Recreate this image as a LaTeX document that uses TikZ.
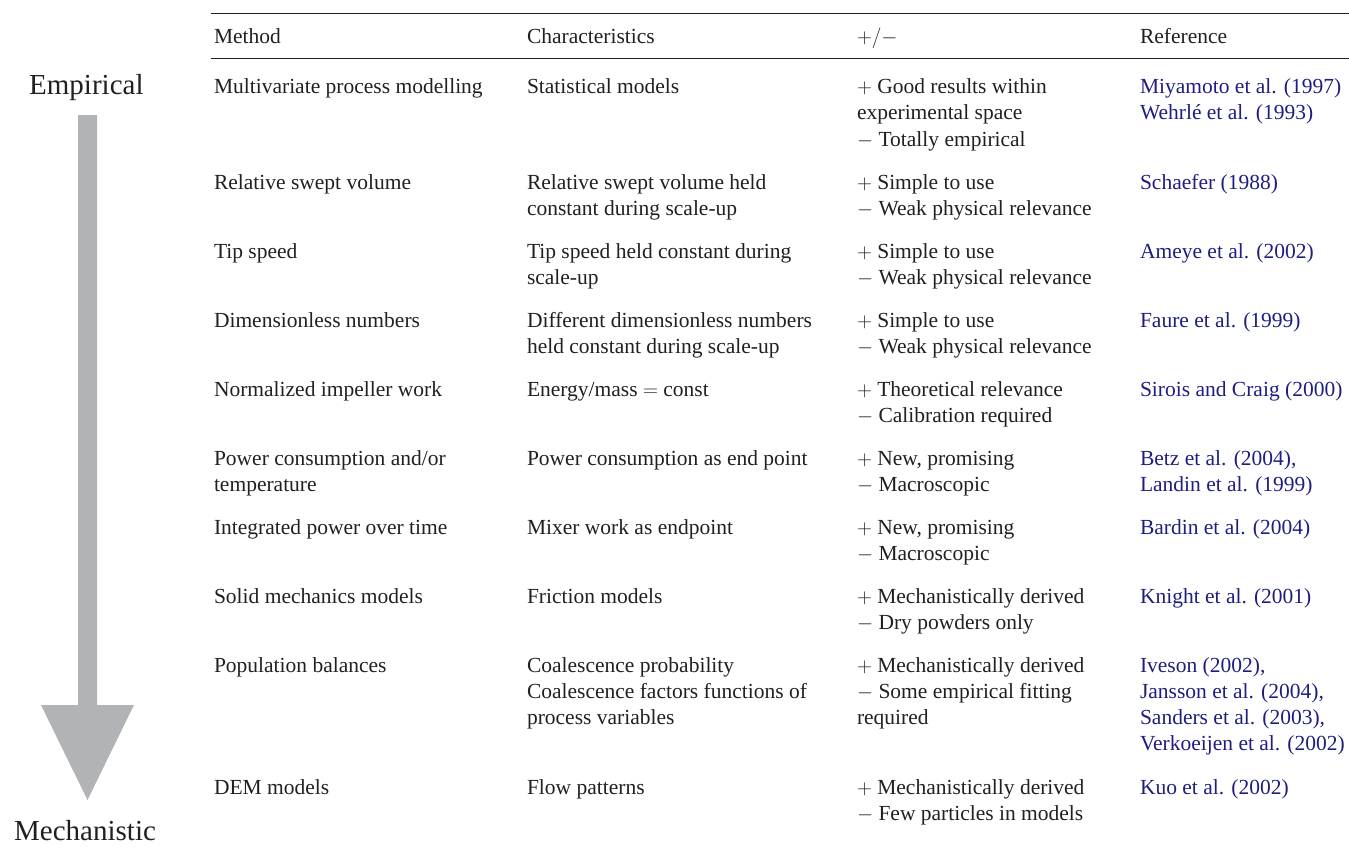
\documentclass[tikz,border=0pt]{standalone}
\usepackage{fontspec}
\setmainfont{Liberation Serif}
\definecolor{txt}{HTML}{231F20}
\definecolor{refblue}{HTML}{1E1E80}
\definecolor{arrowgray}{HTML}{B1B3B6}
\newcommand\mlines[1]{\begin{tabular}[t]{@{}l@{}}#1\end{tabular}}
\newcommand\pl{$+$\ }
\newcommand\mi{$-$\ }
\tikzset{
  cell/.style={anchor=base west, inner sep=0pt, outer sep=0pt, text=txt,
    font=\fontsize{21.5}{26.3}\selectfont},
  refcell/.style={cell, text=refblue},
  biglabel/.style={anchor=base west, inner sep=0pt, text=txt, font=\fontsize{29}{34}\selectfont},
  rule/.style={draw=txt, line width=1.1pt}
}
\begin{document}
\begin{tikzpicture}[x=1pt,y=-1pt]
\useasboundingbox (0,0) rectangle (1349,863);
% rules
\coordinate (rl1) at (211,13.5);
\coordinate (rr1) at (1349,13.5);
\coordinate (rl2) at (211,58.5);
\coordinate (rr2) at (1349,58.5);
\draw[rule] (rl1) -- (rr1);
\draw[rule] (rl2) -- (rr2);
% arrow
\fill[arrowgray] (78,115) -- (97,115) -- (97,705) -- (134,705) -- (87.5,800) -- (41,705) -- (78,705) -- cycle;
\node[biglabel] (emp) at (29,94) {Empirical};
\node[biglabel] (mech) at (14,840.5) {Mechanistic};
% header
\def\cA{214}\def\cB{527}\def\cC{857}\def\cD{1140}
\node[cell] (h1) at (\cA,43) {Method};
\node[cell] (h2) at (\cB,43) {Characteristics};
\node[cell] (h3) at (\cC,43) {$+/-$};
\node[cell] (h4) at (\cD,43) {Reference};
% row 1
\node[cell] (a1) at (\cA,93.5) {Multivariate process modelling};
\node[cell] (b1) at (\cB,93.5) {Statistical models};
\node[cell] (c1) at (\cC,93.5) {\mlines{\pl Good results within\\experimental space\\\mi Totally empirical}};
\node[refcell] (d1) at (\cD,93.5) {\mlines{Miyamoto et al. (1997)\\Wehrlé et al. (1993)}};
% row 2
\node[cell] (a2) at (\cA,189) {Relative swept volume};
\node[cell] (b2) at (\cB,189) {\mlines{Relative swept volume held\\constant during scale-up}};
\node[cell] (c2) at (\cC,189) {\mlines{\pl Simple to use\\\mi Weak physical relevance}};
\node[refcell] (d2) at (\cD,189) {Schaefer (1988)};
% row 3
\node[cell] (a3) at (\cA,258) {Tip speed};
\node[cell] (b3) at (\cB,258) {\mlines{Tip speed held constant during\\scale-up}};
\node[cell] (c3) at (\cC,258) {\mlines{\pl Simple to use\\\mi Weak physical relevance}};
\node[refcell] (d3) at (\cD,258) {Ameye et al. (2002)};
% row 4
\node[cell] (a4) at (\cA,327) {Dimensionless numbers};
\node[cell] (b4) at (\cB,327) {\mlines{Different dimensionless numbers\\held constant during scale-up}};
\node[cell] (c4) at (\cC,327) {\mlines{\pl Simple to use\\\mi Weak physical relevance}};
\node[refcell] (d4) at (\cD,327) {Faure et al. (1999)};
% row 5
\node[cell] (a5) at (\cA,396) {Normalized impeller work};
\node[cell] (b5) at (\cB,396) {Energy/mass $=$ const};
\node[cell] (c5) at (\cC,396) {\mlines{\pl Theoretical relevance\\\mi Calibration required}};
\node[refcell] (d5) at (\cD,396) {Sirois and Craig (2000)};
% row 6
\node[cell] (a6) at (\cA,465) {\mlines{Power consumption and/or\\temperature}};
\node[cell] (b6) at (\cB,465) {Power consumption as end point};
\node[cell] (c6) at (\cC,465) {\mlines{\pl New, promising\\\mi Macroscopic}};
\node[refcell] (d6) at (\cD,465) {\mlines{Betz et al. (2004),\\Landin et al. (1999)}};
% row 7
\node[cell] (a7) at (\cA,534) {Integrated power over time};
\node[cell] (b7) at (\cB,534) {Mixer work as endpoint};
\node[cell] (c7) at (\cC,534) {\mlines{\pl New, promising\\\mi Macroscopic}};
\node[refcell] (d7) at (\cD,534) {Bardin et al. (2004)};
% row 8
\node[cell] (a8) at (\cA,603) {Solid mechanics models};
\node[cell] (b8) at (\cB,603) {Friction models};
\node[cell] (c8) at (\cC,603) {\mlines{\pl Mechanistically derived\\\mi Dry powders only}};
\node[refcell] (d8) at (\cD,603) {Knight et al. (2001)};
% row 9
\node[cell] (a9) at (\cA,672) {Population balances};
\node[cell] (b9) at (\cB,672) {\mlines{Coalescence probability\\Coalescence factors functions of\\process variables}};
\node[cell] (c9) at (\cC,672) {\mlines{\pl Mechanistically derived\\\mi Some empirical fitting\\required}};
\node[refcell] (d9) at (\cD,672) {\mlines{Iveson (2002),\\Jansson et al. (2004),\\Sanders et al. (2003),\\Verkoeijen et al. (2002)}};
% row 10
\node[cell] (a10) at (\cA,794) {DEM models};
\node[cell] (b10) at (\cB,794) {Flow patterns};
\node[cell] (c10) at (\cC,794) {\mlines{\pl Mechanistically derived\\\mi Few particles in models}};
\node[refcell] (d10) at (\cD,794) {Kuo et al. (2002)};
\end{tikzpicture}
\end{document}
